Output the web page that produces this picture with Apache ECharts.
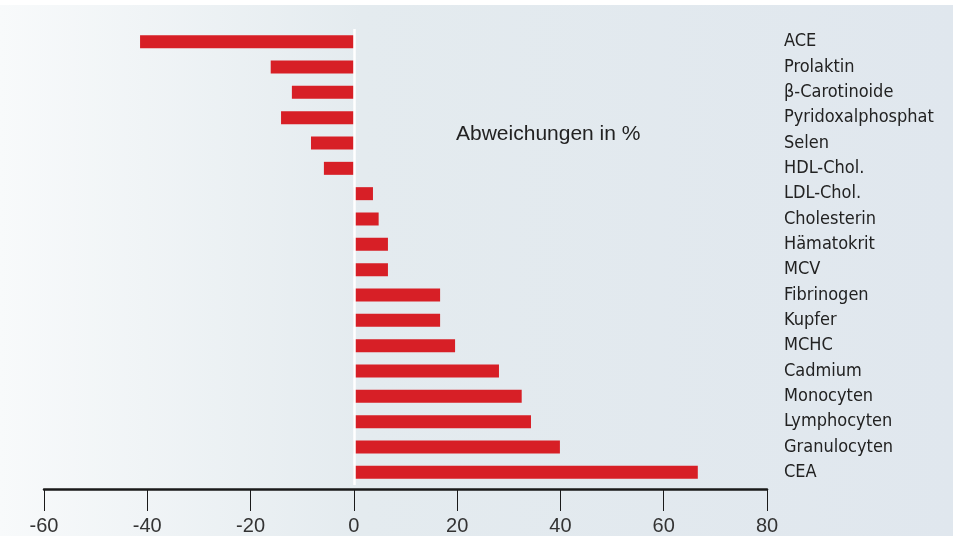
<!DOCTYPE html>
<html>
<head>
<meta charset="utf-8">
<script src="https://cdn.jsdelivr.net/npm/echarts@6/dist/echarts.min.js"></script>
<style>
html, body { margin: 0; padding: 0; background: #fff; }
#chart { width: 953px; height: 536px; }
</style>
</head>
<body>
<div id="chart"></div>
<script>
var categories = ['ACE', 'Prolaktin', 'β-Carotinoide', 'Pyridoxalphosphat', 'Selen', 'HDL-Chol.',
    'LDL-Chol.', 'Cholesterin', 'Hämatokrit', 'MCV', 'Fibrinogen', 'Kupfer', 'MCHC',
    'Cadmium', 'Monocyten', 'Lymphocyten', 'Granulocyten', 'CEA'];
var values = [-41.4, -16.1, -12.0, -14.1, -8.3, -5.8,
    3.7, 4.8, 6.6, 6.6, 16.7, 16.7, 19.6,
    28.1, 32.5, 34.3, 39.9, 66.6];
var xTicks = { min: -60, max: 80, step: 20 };

var chart = echarts.init(document.getElementById('chart'));

var option = {
    backgroundColor: '#ffffff',
    animation: false,
    title: {
        text: 'Abweichungen in %',
        left: 451,
        top: 119,
        textStyle: {
            fontFamily: 'Liberation Sans',
            fontSize: 21,
            fontWeight: 'normal',
            color: '#222'
        }
    },
    graphic: [{
        type: 'rect',
        z: -10,
        shape: { x: 0, y: 5, width: 953, height: 531 },
        style: {
            fill: new echarts.graphic.LinearGradient(0, 0, 1, 0, [
                { offset: 0, color: '#f8fafb' },
                { offset: 0.38, color: '#e4ebef' },
                { offset: 1, color: '#e0e7ee' }
            ])
        }
    }],
    grid: {
        left: 44,
        right: 186,
        top: 29,
        height: 456
    },
    xAxis: {
        type: 'value',
        min: xTicks.min,
        max: xTicks.max,
        interval: xTicks.step,
        offset: 4,
        splitLine: { show: false },
        axisLine: { show: true, lineStyle: { color: '#1a1a1a', width: 2.5 } },
        axisTick: { show: true, length: 22, lineStyle: { color: '#1a1a1a', width: 1 } },
        axisLabel: {
            margin: 27,
            fontFamily: 'Liberation Sans',
            fontSize: 20,
            color: '#333'
        }
    },
    yAxis: {
        type: 'category',
        data: categories,
        inverse: true,
        position: 'right',
        axisLine: { show: false },
        axisTick: { show: false },
        splitLine: { show: false },
        axisLabel: {
            interval: 0,
            margin: 17,
            align: 'left',
            padding: [4, 0, 0, 0],
            fontFamily: '"DejaVu Sans Condensed", "Liberation Sans", sans-serif',
            fontSize: 18,
            color: '#222'
        }
    },
    series: [{
        type: 'bar',
        data: values,
        barWidth: 13,
        itemStyle: { color: '#d71f26' },
        markLine: {
            silent: true,
            symbol: 'none',
            label: { show: false },
            lineStyle: { color: '#ffffff', width: 2.5, type: 'solid' },
            data: [{ xAxis: 0 }]
        }
    }]
};

chart.setOption(option);
</script>
</body>
</html>
